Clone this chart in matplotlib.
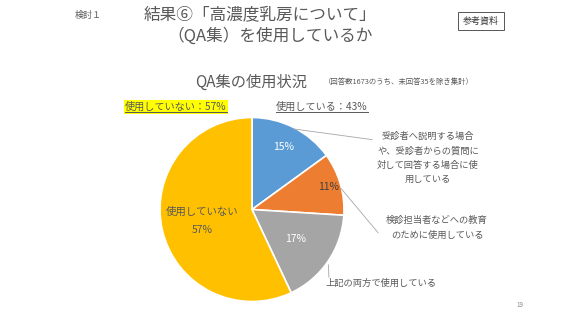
import matplotlib
matplotlib.use('Agg')
import numpy as np
import matplotlib.pyplot as plt
from matplotlib.lines import Line2D

plt.rcParams['font.family'] = ['Noto Sans CJK JP', 'DejaVu Sans']

# data
shares = [15, 11, 17, 57]
slice_colors = ['#5B9BD5', '#ED7D31', '#A5A5A5', '#FFC000']
pct_labels = ['15%', '11%', '17%', '使用していない\n\n57%']
pct_colors = ['white', '#404040', 'white', '#595959']
pct_dist = [0.76, 0.87, 0.57, 0.55]
callouts = ['受診者へ説明する場合\nや、受診者からの質問に\n対して回答する場合に使\n用している',
            '検診担当者などへの教育\nのために使用している',
            '上記の両方で使用している']
not_used_pct = 57
used_pct = 43
n_answers = 1673
n_missing = 35

W, H = 569, 320
fig = plt.figure(figsize=(W / 100, H / 100), dpi=100)
gray = '#595959'

def px(x, y):
    return x / W, 1 - y / H

# header texts
fig.text(*px(88, 15), '検討１', fontsize=6.5, color=gray, ha='center', va='center')
fig.text(*px(260, 15), '結果⑥「高濃度乳房について」', fontsize=12, color=gray, ha='center', va='center')
fig.text(*px(270, 36), '（QA集）を使用しているか', fontsize=12, color=gray, ha='center', va='center')
fig.text(*px(481, 21), '参考資料', fontsize=6.5, color='#333333', ha='center', va='center',
         bbox=dict(facecolor='white', edgecolor='#555555', linewidth=0.7, boxstyle='square,pad=0.5'))

fig.text(*px(251, 82), 'QA集の使用状況', fontsize=11, color=gray, ha='center', va='center')
fig.text(*px(399, 82), f'（回答数{n_answers}のうち、未回答{n_missing}を除き集計）', fontsize=5.3,
         color=gray, ha='center', va='center')

t1 = fig.text(*px(176, 107), f'使用していない：{not_used_pct}%', fontsize=7.3, color=gray,
              ha='center', va='center',
              bbox=dict(facecolor='#FFFF00', edgecolor='none', boxstyle='square,pad=0.15'))
t2 = fig.text(*px(322, 107), f'使用している：{used_pct}%', fontsize=7.3, color=gray,
              ha='center', va='center')

fig.text(*px(520, 305), '19', fontsize=4.5, color='#888888', ha='center', va='center')

# pie
ax = fig.add_axes([160 / W, 1 - 302 / H, 184 / W, 185 / H])
wedges, _ = ax.pie(shares, colors=slice_colors, startangle=90, counterclock=False,
                   radius=1, wedgeprops=dict(edgecolor='white', linewidth=1.2))
ax.set_xlim(-1, 1)
ax.set_ylim(-1, 1)
ax.set_aspect('equal')
ax.axis('off')

for w, lab, col, d in zip(wedges, pct_labels, pct_colors, pct_dist):
    mid = np.deg2rad((w.theta1 + w.theta2) / 2)
    ax.text(d * np.cos(mid), d * np.sin(mid), lab, fontsize=7.5, color=col,
            ha='center', va='center', linespacing=0.9)

# callouts with leader lines
anchors = [(0.42, 0.88, 375, 140), (0.95, 0.25, 380, 235), (0.83, -0.57, 329, 280)]
text_pos = [(428, 158), (437, 228), (381, 283)]
for (ax_x, ax_y, lx, ly), txt, (tx, ty) in zip(anchors, callouts, text_pos):
    fx, fy = px(lx, ly)
    ax.annotate('', xy=(ax_x, ax_y), xycoords='data', xytext=(fx, fy),
                textcoords='figure fraction',
                arrowprops=dict(arrowstyle='-', color='#A6A6A6', linewidth=0.6))
    fig.text(*px(tx, ty), txt, fontsize=6.7, color=gray, ha='center', va='center',
             linespacing=1.75)

# underlines for the header labels
fig.canvas.draw()
r = fig.canvas.get_renderer()
for t in (t1, t2):
    bb = t.get_window_extent(r)
    y = (bb.y0 + 0.5) / H
    fig.add_artist(Line2D([bb.x0 / W, bb.x1 / W], [y, y], color=gray, linewidth=0.7, zorder=10))

fig.savefig('out.png', dpi=100)
